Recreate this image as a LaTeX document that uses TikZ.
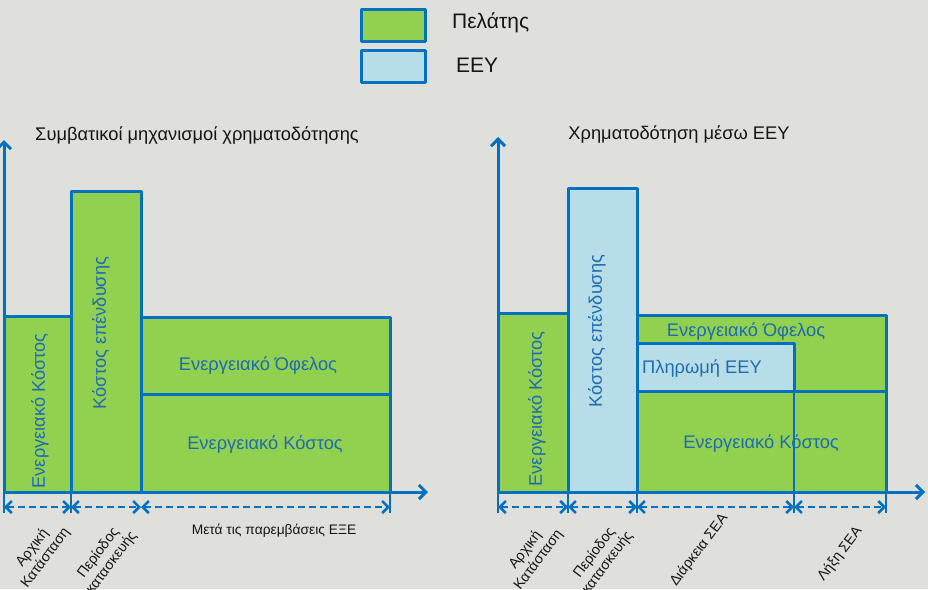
\documentclass[tikz,border=0pt]{standalone}
\usepackage{fontspec}
\setmainfont{Liberation Sans}
\usetikzlibrary{arrows.meta}
\definecolor{bg}{HTML}{DFDFDB}
\definecolor{grn}{HTML}{92D050}
\definecolor{lbl}{HTML}{B7DEE8}
\definecolor{ln}{HTML}{0070C0}
\definecolor{txtb}{HTML}{1F6BAF}
\definecolor{txtk}{HTML}{151515}
\begin{document}
\begin{tikzpicture}[x=1pt,y=-1pt,
  box/.style={draw=ln, line width=3pt, line join=round, inner sep=0pt, outer sep=0pt, anchor=north west},
  axis/.style={draw=ln, line width=3pt, -{Straight Barb[length=7pt,width=14pt,line width=3pt]}},
  dim/.style={draw=ln, line width=2.5pt, dash pattern=on 7pt off 4pt, {Straight Barb[length=6pt,width=12pt,line width=2.5pt]}-{Straight Barb[length=6pt,width=12pt,line width=2.5pt]}},
  tick/.style={draw=ln, line width=1.5pt},
  blab/.style={text=txtb, font=\fontsize{18.3}{21}\selectfont, inner sep=0pt},
  vlab/.style={text=txtb, font=\fontsize{18.2}{21}\selectfont, inner sep=0pt, rotate=90},
  dlab/.style={text=txtk, font=\fontsize{14.3}{16.5}\selectfont, inner sep=0pt, align=center, rotate=53},
  title/.style={text=txtk, font=\fontsize{18.3}{21}\selectfont, inner sep=0pt},
  leg/.style={text=txtk, font=\fontsize{21}{24}\selectfont, inner sep=0pt, anchor=west}]
\fill[bg] (0,0) rectangle (928,589);
\useasboundingbox (0,0) rectangle (928,589);

% legend
\node[box, fill=grn, minimum width=64pt, minimum height=32pt] (lg1) at (361,9) {};
\node[box, fill=lbl, minimum width=64pt, minimum height=32pt] (lg2) at (361,50) {};
\node[leg] (lgt1) at (452,23) {Πελάτης};
\node[leg] (lgt2) at (456,65) {ΕΕΥ};

% ---------- left panel ----------
\node[title] (tl) at (197,136) {Συμβατικοί μηχανισμοί χρηματοδότησης};
\coordinate (lo) at (4,492);
\coordinate (ly) at (4,140);
\coordinate (lx) at (428,492);
\node[box, fill=grn, minimum width=67pt, minimum height=176pt] (l1) at (4,316) {};
\node[box, fill=grn, minimum width=70pt, minimum height=301pt] (l2) at (71,191) {};
\node[box, fill=grn, minimum width=249pt, minimum height=77pt] (l3) at (141,317) {};
\node[box, fill=grn, minimum width=249pt, minimum height=98pt] (l4) at (141,394) {};
\draw[axis] (lo) -- (ly);
\draw[axis] (lo) -- (lx);
\node[vlab] (l1t) at (40,411) {Ενεργειακό Κόστος};
\node[vlab] (l2t) at (101,333) {Κόστος επένδυσης};
\node[blab] (l3t) at (258,365) {Ενεργειακό Όφελος};
\node[blab] (l4t) at (265,444) {Ενεργειακό Κόστος};
\foreach \c in {l1.south west, l2.south west, l3.south west, l4.south east}
  \draw[tick] (\c) -- ([yshift=-21pt]\c);
\draw[dim] ([yshift=-15pt]l1.south west) -- ([yshift=-15pt]l1.south east);
\draw[dim] ([yshift=-15pt]l2.south west) -- ([yshift=-15pt]l2.south east);
\draw[dim] ([yshift=-15pt]l4.south west) -- ([yshift=-15pt]l4.south east);
\node[dlab] (ld1) at (39,553) {Αρχική\\Κατάσταση};
\node[dlab] (ld2) at (105,558) {Περίοδος\\κατασκευής};
\node[text=txtk, font=\fontsize{13.8}{15}\selectfont, inner sep=0pt] (ld3) at (274,531) {Μετά τις παρεμβάσεις ΕΞΕ};

% ---------- right panel ----------
\node[title] (tr) at (679,135) {Χρηματοδότηση μέσω ΕΕΥ};
\coordinate (ro) at (498,492);
\coordinate (ry) at (498,137);
\coordinate (rx) at (925,492);
\node[box, fill=grn, minimum width=70pt, minimum height=179pt] (r1) at (498,313) {};
\node[box, fill=lbl, minimum width=69pt, minimum height=304pt] (r2) at (568,188) {};
\node[box, fill=grn, minimum width=249pt, minimum height=76pt] (r3) at (637,315) {};
\node[box, fill=lbl, minimum width=157pt, minimum height=48pt] (r5) at (637,343) {};
\node[box, fill=grn, minimum width=249pt, minimum height=101pt] (r4) at (637,391) {};
\draw[draw=ln, line width=2pt] (r5.south east) -- (r5.south east |- r4.south);
\draw[axis] (ro) -- (ry);
\draw[axis] (ro) -- (rx);
\node[vlab] (r1t) at (537,409) {Ενεργειακό Κόστος};
\node[vlab] (r2t) at (597,331) {Κόστος επένδυσης};
\node[blab] (r3t) at (746,331) {Ενεργειακό Όφελος};
\node[blab] (r5t) at (702,368) {Πληρωμή ΕΕΥ};
\node[blab] (r4t) at (761,443) {Ενεργειακό Κόστος};
\coordinate (rm) at (r5.south east |- r4.south);
\foreach \c in {r1.south west, r2.south west, r4.south west, rm, r4.south east}
  \draw[tick] (\c) -- ([yshift=-21pt]\c);
\draw[dim] ([yshift=-15pt]r1.south west) -- ([yshift=-15pt]r1.south east);
\draw[dim] ([yshift=-15pt]r2.south west) -- ([yshift=-15pt]r2.south east);
\draw[dim] ([yshift=-15pt]r4.south west) -- ([yshift=-15pt]rm);
\draw[dim] ([yshift=-15pt]rm) -- ([yshift=-15pt]r4.south east);
\node[dlab] (rd1) at (532,555) {Αρχική\\Κατάσταση};
\node[dlab] (rd2) at (601,558) {Περίοδος\\κατασκευής};
\node[dlab] (rd3) at (699,550) {Διάρκεια ΣΕΑ};
\node[dlab] (rd4) at (840,554) {Λήξη ΣΕΑ};
\end{tikzpicture}
\end{document}
